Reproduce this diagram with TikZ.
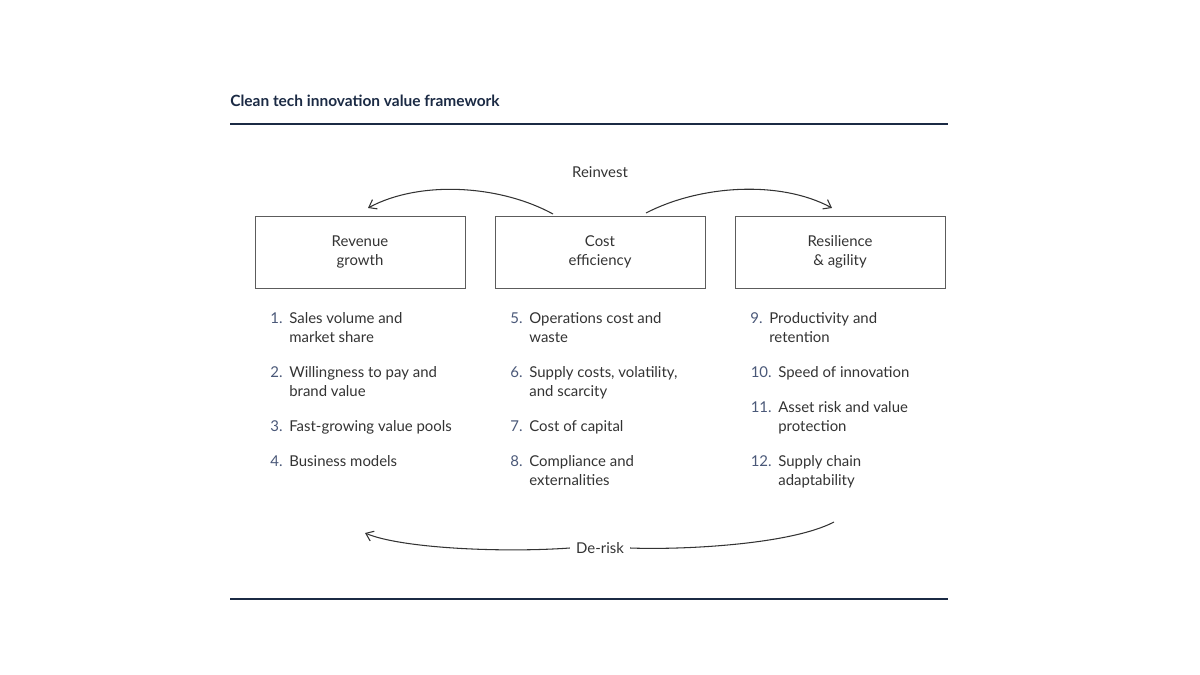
\documentclass[tikz,border=0pt]{standalone}
\usepackage{fontspec}
\setmainfont{Lato}
\usetikzlibrary{arrows.meta}
\definecolor{navy}{HTML}{1B2A44}
\definecolor{numblue}{HTML}{4A5878}
\definecolor{txt}{HTML}{333333}
\tikzset{
	box/.style={draw=txt!80, line width=0.5pt, minimum width=210*0.02cm, minimum height=72*0.02cm, align=center, text=txt, font=\fontsize{8.5}{10.5}\selectfont},
	num/.style={anchor=north east, inner sep=0pt, text=numblue, font=\fontsize{8.5}{10.8}\selectfont},
	item/.style={anchor=north west, inner sep=0pt, align=left, text=txt, font=\fontsize{8.5}{10.8}\selectfont},
	flow/.style={-{Straight Barb[length=4pt,width=6pt]}, line width=0.6pt, draw=txt},
}
\begin{document}
\begin{tikzpicture}[x=0.02cm,y=-0.02cm]
	\useasboundingbox (0,0) rectangle (1200,675);

	\node[anchor=west, inner sep=0pt, text=navy, font=\fontsize{8.8}{10}\selectfont\bfseries] (title) at (230,101) {Clean tech innovation value framework};
	\draw[navy, line width=0.7pt] (230,124) -- (948,124);
	\draw[navy, line width=0.7pt] (230,599) -- (948,599);

	\node[box] (rev) at (360,252) {Revenue\\growth};
	\node[box] (cost) at (600,252) {Cost\\efficiency};
	\node[box] (res) at (840,252) {Resilience\\\& agility};

	\node[text=txt, font=\fontsize{8.5}{10}\selectfont] (reinvest) at (600,172) {Reinvest};
	\node[text=txt, font=\fontsize{8.5}{10}\selectfont] (derisk) at (600,548) {De-risk};

	\coordinate (c1) at (553,214);
	\coordinate (c2) at (646,213);
	\coordinate (r1) at (368,208);
	\coordinate (s1) at (832,208);
	\coordinate (s2) at (834,522);
	\coordinate (r2) at (365,533);

	\draw[flow] (c1) .. controls (500,185) and (420,180) .. (r1);
	\draw[flow] (c2) .. controls (700,185) and (780,180) .. (s1);
	\draw[line width=0.6pt, draw=txt] (s2) .. controls (790,545) and (680,550) .. (derisk.east);
	\draw[flow] (derisk.west) .. controls (500,553) and (400,548) .. (r2);

	% revenue growth
	\node[num] (n1) at (283,312) {1.};
	\node[item] (i1) at (289,312) {Sales volume and\\market share};
	\node[num] (n2) at (283,366) {2.};
	\node[item] (i2) at (289,366) {Willingness to pay and\\brand value};
	\node[num] (n3) at (283,420) {3.};
	\node[item] (i3) at (289,420) {Fast-growing value pools};
	\node[num] (n4) at (283,455) {4.};
	\node[item] (i4) at (289,455) {Business models};

	% cost efficiency
	\node[num] (n5) at (523,312) {5.};
	\node[item] (i5) at (529,312) {Operations cost and\\waste};
	\node[num] (n6) at (523,366) {6.};
	\node[item] (i6) at (529,366) {Supply costs, volatility,\\and scarcity};
	\node[num] (n7) at (523,420) {7.};
	\node[item] (i7) at (529,420) {Cost of capital};
	\node[num] (n8) at (523,455) {8.};
	\node[item] (i8) at (529,455) {Compliance and\\externalities};

	% resilience & agility
	\node[num] (n9) at (763,312) {9.};
	\node[item] (i9) at (769,312) {Productivity and\\retention};
	\node[num] (n10) at (772,366) {10.};
	\node[item] (i10) at (778,366) {Speed of innovation};
	\node[num] (n11) at (772,401) {11.};
	\node[item] (i11) at (778,401) {Asset risk and value\\protection};
	\node[num] (n12) at (772,455) {12.};
	\node[item] (i12) at (778,455) {Supply chain\\adaptability};
\end{tikzpicture}
\end{document}
